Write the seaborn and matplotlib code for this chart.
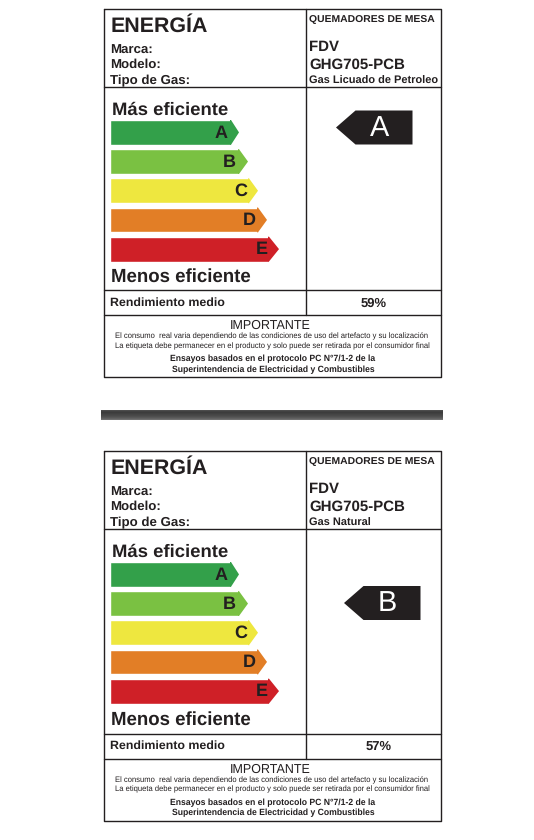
import matplotlib
matplotlib.use("Agg")
import matplotlib.pyplot as plt
import numpy as np
import pandas as pd
import seaborn as sns
from matplotlib.patches import Polygon

# values
grades = ["A", "B", "C", "D", "E"]
bar_lengths = [121, 129, 139, 148, 159]
bar_colors = ["#33a04a", "#7ac142", "#eee73f", "#e27e26", "#cf2027"]
tip_lengths = [8, 9, 9, 9, 10]
letter_offsets = [10, 9.7, 8.3, 8.3, 7.7]

gases = ["Gas Licuado de Petroleo", "Gas Natural"]
ratings = ["A", "B"]
yields = ["59%", "57%"]
yield_centres = [373.5, 379]
panel_tops = [9, 451]
panel_heights = [368, 369.5]
rating_tips = [336, 344]
rating_mids = [127.5, 603]

W, H = 534, 840
INK = "#231f20"

sns.set_theme(style="white")
plt.rcParams["font.family"] = ["Liberation Sans", "DejaVu Sans"]
plt.rcParams["text.hinting"] = "no_hinting"

fig = plt.figure(figsize=(W / 100, H / 100), dpi=100)
bg = fig.add_axes([0, 0, 1, 1])
bg.set_xlim(0, W)
bg.set_ylim(H, 0)
bg.axis("off")


def draw_bars(top, bottom):
    # one axes per scale, placed over the pixel grid of the label
    left, right = 110, 300
    ax = fig.add_axes([left / W, 1 - bottom / H, (right - left) / W, (bottom - top) / H])
    df = pd.DataFrame({"grade": grades, "length": bar_lengths})
    sns.barplot(data=df, y="grade", x="length", hue="grade", palette=bar_colors,
                legend=False, width=0.85, saturation=1, ax=ax)
    ax.set_xlim(0, right - left)
    ax.set_ylim(4.425, -0.425)
    ax.axis("off")
    for bar, tip, color, grade, off in zip(ax.patches, tip_lengths, bar_colors, grades, letter_offsets):
        x = bar.get_width()
        y0, y1 = bar.get_y(), bar.get_y() + bar.get_height()
        # start the tip a little inside the bar so no seam shows
        ax.add_patch(Polygon([(x - 1, y0), (x, y0), (x + tip, (y0 + y1) / 2), (x, y1), (x - 1, y1)],
                             facecolor=color, edgecolor="none"))
        ax.text(x - off, (y0 + y1) / 2 + 0.02, grade, ha="center", va="center",
                fontsize=13, fontweight="bold", color=INK)


def draw_panel(top, height, gas, rating, tip, mid, value, value_x):
    x0, x1, xm = 104, 440.5, 306
    dy = top - 9
    bottom = top + height
    row1 = top + 78
    row3 = bottom - 62
    row2 = row3 - 25
    lw = 1.0
    bg.plot([x0, x1, x1, x0, x0], [top, top, bottom, bottom, top], color=INK, lw=lw)
    bg.plot([x0, x1], [row1, row1], color=INK, lw=lw)
    bg.plot([x0, x1], [row2, row2], color=INK, lw=lw)
    bg.plot([x0, x1], [row3, row3], color=INK, lw=lw)
    bg.plot([xm, xm], [top, row3], color=INK, lw=lw)

    bold = dict(fontweight="bold", color=INK, va="center")
    bg.text(110.5, 26.5 + dy, "ENERGÍA", fontsize=15.4, **bold)
    bg.text(110.5, 50.5 + dy, "Marca:", fontsize=9.5, **bold)
    bg.text(110.5, 65 + dy, "Modelo:", fontsize=9.5, **bold)
    bg.text(110.5, 81 + dy, "Tipo de Gas:", fontsize=9.5, **bold)
    bg.text(309, 19 + dy, "QUEMADORES DE MESA", fontsize=7.45, **bold)
    bg.text(309, 47 + dy, "FDV", fontsize=10.8, **bold)
    bg.text(309, 65 + dy, "GHG705-PCB", fontsize=10.8, **bold)
    bg.text(309, 81 + dy, gas, fontsize=7.9, **bold)

    bg.text(111.5, row1 + 23.5, "Más eficiente", fontsize=13.3, **bold)
    bg.text(111, row2 - 13.5, "Menos eficiente", fontsize=13.4, **bold)
    bg.text(110.5, row2 + 12.5, "Rendimiento medio", fontsize=8.95, **bold)
    bg.text(value_x, row2 + 13.5, value, fontsize=9.4, ha="center", **bold)

    cx = 272
    bg.text(270, row3 + 10.8, "IMPORTANTE", fontsize=9, ha="center", va="center", color=INK)
    bg.text(cx, row3 + 21.3, "El consumo  real varia dependiendo de las condiciones de uso del artefacto y su localización",
            fontsize=5.5, ha="center", va="center", color=INK)
    bg.text(cx, row3 + 31, "La etiqueta debe permanecer en el producto y solo puede ser retirada por el consumidor final",
            fontsize=5.5, ha="center", va="center", color=INK)
    bg.text(cx + 1, row3 + 44, "Ensayos basados en el protocolo PC N°7/1-2 de la", fontsize=6.2, ha="center", **bold)
    bg.text(cx + 1, row3 + 54.7, "Superintendencia de Electricidad y Combustibles", fontsize=6.2, ha="center", **bold)

    # rating arrow on the right hand side
    bg.add_patch(Polygon([(tip, mid), (tip + 19.5, mid - 17), (tip + 76.5, mid - 17),
                          (tip + 76.5, mid + 17), (tip + 19.5, mid + 17)],
                         facecolor=INK, edgecolor="none"))
    bg.text(tip + 43.5, mid + 0.5, rating, fontsize=20.8, color="white", ha="center", va="center")


for top, height, gas, rating, tip, mid, value, value_x in zip(panel_tops, panel_heights, gases, ratings,
                                                             rating_tips, rating_mids, yields, yield_centres):
    draw_panel(top, height, gas, rating, tip, mid, value, value_x)
    bars_top = top + 111
    draw_bars(bars_top, bars_top + 141.5)

# grey separator strip between the labels
shade = np.array([[0.30], [0.26], [0.24], [0.25], [0.27], [0.29], [0.31], [0.34], [0.38], [0.44]])
bg.imshow(shade, cmap="gray", vmin=0, vmax=1, extent=(101, 443, 420, 410), aspect="auto")
bg.set_xlim(0, W)
bg.set_ylim(H, 0)

fig.savefig("out.png", dpi=100)
